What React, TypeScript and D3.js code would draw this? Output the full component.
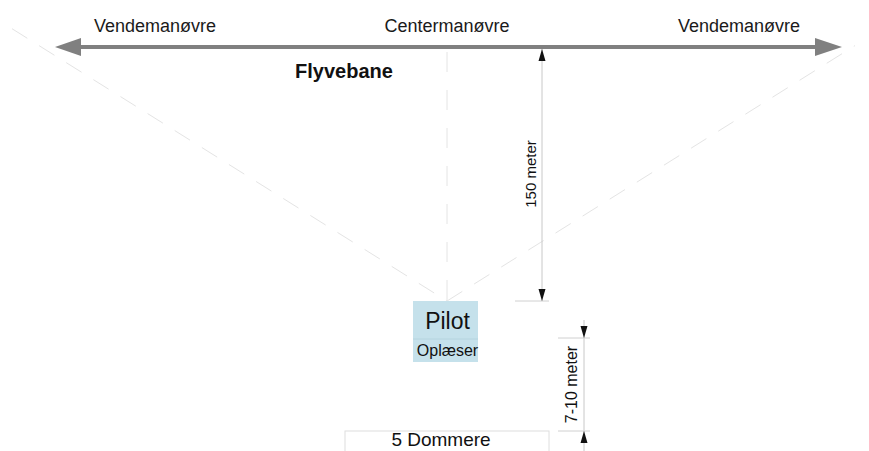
import React from "react";
import * as d3 from "d3";

// labels along the flight line
const manoeuvres = ["Vendemanøvre", "Centermanøvre", "Vendemanøvre"];
const flightLabel = "Flyvebane";
const pilotLabels = ["Pilot", "Oplæser"];
const judgesLabel = "5 Dommere";
const distances = [
  { label: "150 meter", from: "line", to: "pilot" },
  { label: "7-10 meter", from: "pilot", to: "judges" },
];

const W = 869;
const H = 451;
const font = "'Liberation Sans', Arial, sans-serif";

const App = () => {
  // horizontal scale for the three manoeuvre points
  const x = d3
    .scalePoint<number>()
    .domain(manoeuvres.map((_, i) => i))
    .range([155, 739]);
  const cx = x(1) as number;

  // vertical positions of the levels
  const y = d3
    .scaleOrdinal<string, number>()
    .domain(["labels", "line", "pilot", "box", "judgesTop", "judges"])
    .range([32, 47, 301, 362, 338, 431]);

  const lineY = y("line");
  const apexY = y("pilot");
  const slope = 0.626;

  const diag = d3.line<[number, number]>();
  const leftEnd: [number, number] = [12, apexY - (cx - 12) * slope];
  const rightEnd: [number, number] = [855, apexY - (855 - cx) * slope];

  const arrow = (x1: number, y1: number, dir: number, len = 14, half = 4) =>
    `M${x1},${y1} L${x1 - half},${y1 - dir * len} L${x1 + half},${y1 - dir * len} Z`;

  // dimension lines
  const dim1x = 542;
  const dim2x = 584;

  return (
    <svg
      width={W}
      height={H}
      style={{ position: "absolute", left: 0, top: 0, background: "#fff" }}
      fontFamily={font}
    >
      {/* dashed sight lines */}
      <g stroke="#e4e4e4" strokeWidth={1} fill="none">
        <path d={diag([leftEnd, [cx, apexY]]) as string} strokeDasharray="18,14" />
        <path d={diag([[cx, apexY], rightEnd]) as string} strokeDasharray="18,14" />
        <line x1={cx} x2={cx} y1={52} y2={apexY} strokeDasharray="20,18" />
      </g>

      {/* flight line */}
      <line x1={78} x2={818} y1={lineY} y2={lineY} stroke="#808080" strokeWidth={4} />
      <path d={`M55,${lineY} L81,${lineY - 9} L81,${lineY + 9} Z`} fill="#808080" />
      <path d={`M842,${lineY} L815,${lineY - 9} L815,${lineY + 9} Z`} fill="#808080" />

      {manoeuvres.map((m, i) => (
        <text key={i} x={x(i)} y={y("labels")} textAnchor="middle" fontSize={18} fill="#1a1a1a">
          {m}
        </text>
      ))}
      <text x={344} y={78} textAnchor="middle" fontSize={20} fontWeight="bold" fill="#111">
        {flightLabel}
      </text>

      {/* 150 meter dimension */}
      <line x1={dim1x} x2={dim1x} y1={lineY + 2} y2={apexY} stroke="#c8c8c8" strokeWidth={1} />
      <line x1={515} x2={549} y1={apexY} y2={apexY} stroke="#d0d0d0" strokeWidth={1} />
      <path d={arrow(dim1x, lineY + 2, -1, 12, 3.5)} fill="#111" />
      <path d={arrow(dim1x, apexY, 1, 12, 3.5)} fill="#111" />
      <text
        transform={`translate(${dim1x - 6},${(lineY + apexY) / 2}) rotate(-90)`}
        textAnchor="middle"
        fontSize={15}
        fill="#111"
      >
        {distances[0].label}
      </text>

      {/* pilot box */}
      <rect x={413} y={apexY} width={65} height={y("box") - apexY} fill="#c5e1eb" />
      <line x1={413} x2={478} y1={339} y2={339} stroke="#b5d4df" strokeWidth={1} />
      <text x={cx + 0.5} y={329} textAnchor="middle" fontSize={23} fill="#111">
        {pilotLabels[0]}
      </text>
      <text x={cx + 0.5} y={356} textAnchor="middle" fontSize={16} fill="#111">
        {pilotLabels[1]}
      </text>

      {/* 7-10 meter dimension */}
      <line x1={dim2x} x2={dim2x} y1={320} y2={H} stroke="#c8c8c8" strokeWidth={1} />
      <line x1={558} x2={590} y1={y("judgesTop")} y2={y("judgesTop")} stroke="#d0d0d0" strokeWidth={1} />
      <line x1={558} x2={590} y1={y("judges")} y2={y("judges")} stroke="#d0d0d0" strokeWidth={1} />
      <path d={arrow(dim2x, y("judgesTop"), 1, 12, 3.5)} fill="#111" />
      <path d={arrow(dim2x, y("judges"), -1, 12, 3.5)} fill="#111" />
      <text
        transform={`translate(${dim2x - 7},${(y("judgesTop") + y("judges")) / 2}) rotate(-90)`}
        textAnchor="middle"
        fontSize={16}
        fill="#111"
      >
        {distances[1].label}
      </text>

      {/* judges */}
      <rect x={345} y={y("judges")} width={204} height={40} fill="none" stroke="#dedede" strokeWidth={1} />
      <text x={cx - 6} y={446} textAnchor="middle" fontSize={19} fill="#111">
        {judgesLabel}
      </text>
    </svg>
  );
};

export default App;
